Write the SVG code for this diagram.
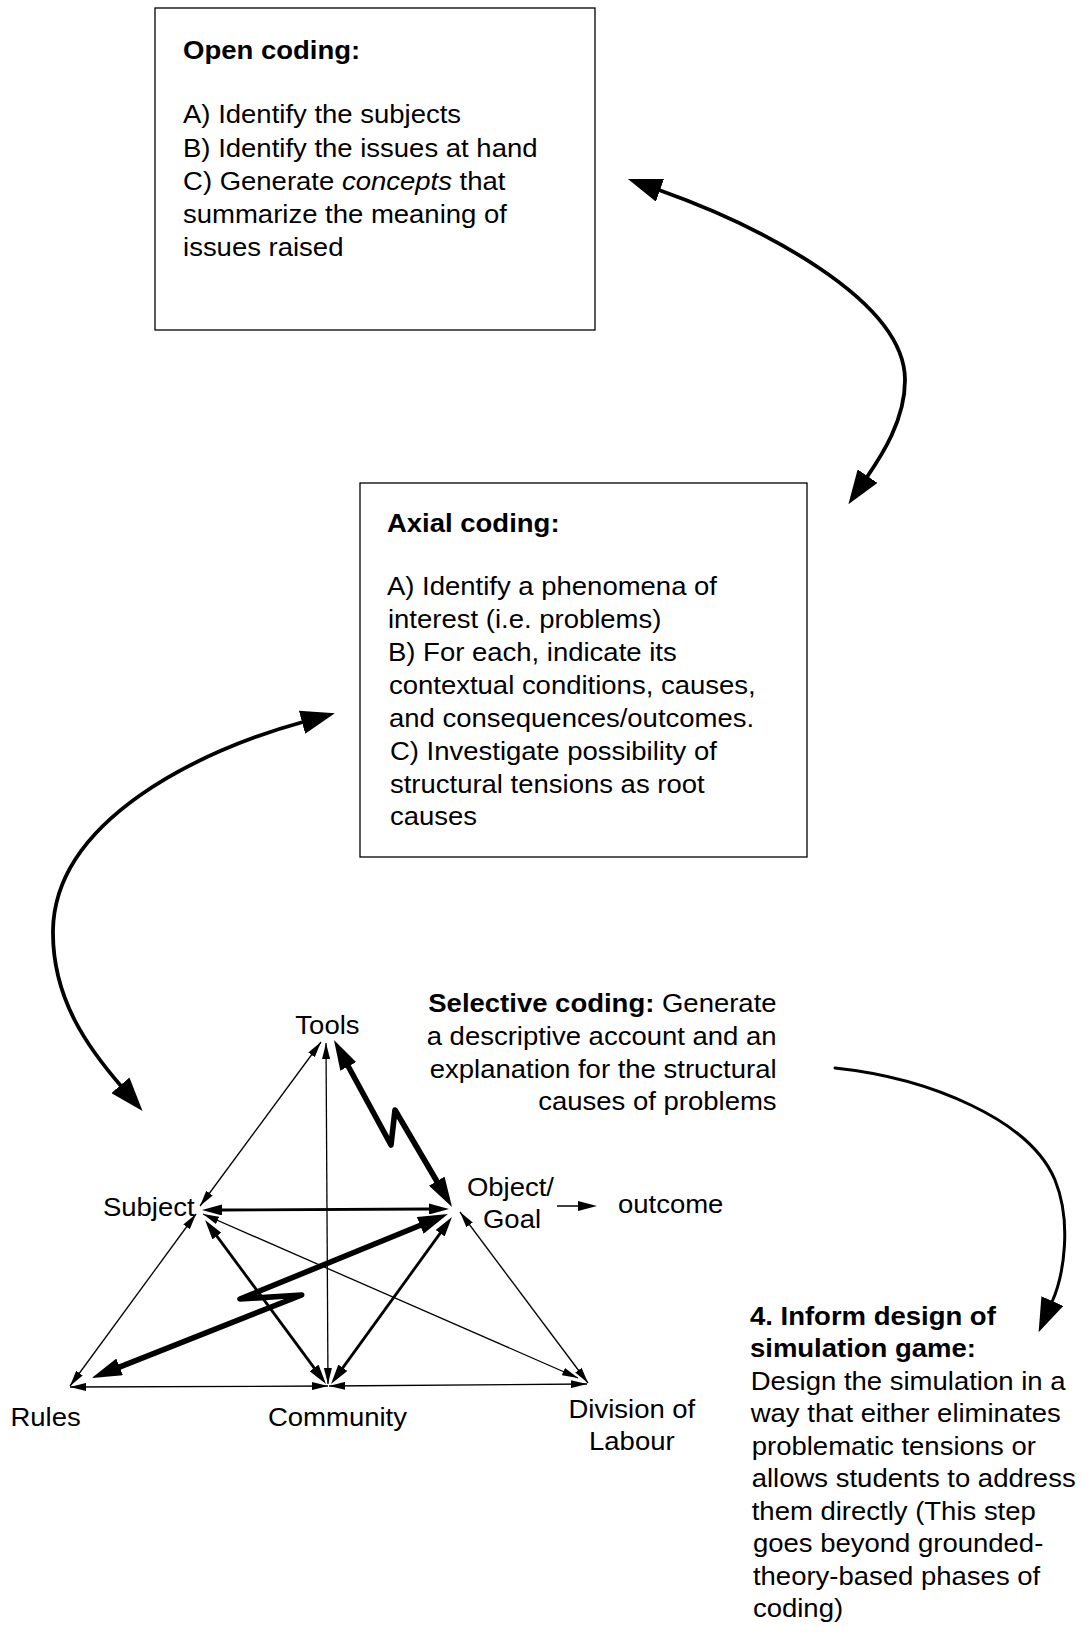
<svg xmlns="http://www.w3.org/2000/svg" width="1083" height="1633" viewBox="0 0 1083 1633">
  <style>
    text { font-family: "Liberation Sans", Arial, sans-serif; font-size: 25px; fill: #000; }
    .b { font-weight: bold; }
    .i { font-style: italic; }
    .box { fill: #fff; stroke: #000; stroke-width: 1.3; }
    .thin { fill: none; stroke: #000; stroke-width: 1.3; }
    .med { fill: none; stroke: #000; stroke-width: 2.8; }
    .bold { fill: none; stroke: #000; stroke-width: 5.6; stroke-linejoin: round; }
    .curve { fill: none; stroke: #000; stroke-width: 3.8; }
    .curve2 { fill: none; stroke: #000; stroke-width: 3; stroke-linecap: round; }
  </style>
  <defs>
    <!-- arrowheads in user units so line weight does not rescale them -->
    <marker id="ah-thin" markerUnits="userSpaceOnUse" markerWidth="16" markerHeight="8" viewBox="0 0 16 8" refX="16" refY="4" orient="auto-start-reverse">
      <path d="M0,0 L16,4 L0,8 z" fill="#000"/>
    </marker>
    <marker id="ah-med" markerUnits="userSpaceOnUse" markerWidth="20" markerHeight="11" viewBox="0 0 20 11" refX="1" refY="5.5" orient="auto-start-reverse">
      <path d="M0,0 L20,5.5 L0,11 z" fill="#000"/>
    </marker>
    <marker id="ah-bold" markerUnits="userSpaceOnUse" markerWidth="30" markerHeight="18" viewBox="0 0 30 18" refX="1" refY="9" orient="auto-start-reverse">
      <path d="M0,0 L30,9 L0,18 z" fill="#000"/>
    </marker>
    <marker id="ah-big" markerUnits="userSpaceOnUse" markerWidth="34" markerHeight="24" viewBox="0 0 34 24" refX="1" refY="12" orient="auto-start-reverse">
      <path d="M0,0 L34,12 L0,24 z" fill="#000"/>
    </marker>
  </defs>

  <rect x="0" y="0" width="1083" height="1633" fill="#fff"/>

  <!-- phase boxes -->
  <g id="open-coding">
    <rect class="box" x="155" y="8" width="440" height="322"/>
    <g transform="scale(1.1 1)">
      <text class="b" x="166.4" y="59">Open coding:</text>
      <text x="166.4" y="123">A) Identify the subjects</text>
      <text x="166.4" y="157">B) Identify the issues at hand</text>
      <text x="166.4" y="190">C) Generate <tspan class="i">concepts</tspan> that</text>
      <text x="166.4" y="223">summarize the meaning of</text>
      <text x="166.4" y="256">issues raised</text>
    </g>
  </g>

  <g id="axial-coding">
    <rect class="box" x="360" y="483" width="447" height="374"/>
    <g transform="scale(1.1 1)">
      <text class="b" x="351.8" y="532">Axial coding:</text>
      <text x="351.8" y="595">A) Identify a phenomena of</text>
      <text x="352.7" y="628">interest (i.e. problems)</text>
      <text x="352.7" y="661">B) For each, indicate its</text>
      <text x="353.6" y="694">contextual conditions, causes,</text>
      <text x="353.6" y="727">and consequences/outcomes.</text>
      <text x="354.5" y="760">C) Investigate possibility of</text>
      <text x="354.5" y="793">structural tensions as root</text>
      <text x="354.5" y="825">causes</text>
    </g>
  </g>

  <g id="selective-coding">
    <g transform="scale(1.1 1)" text-anchor="end">
      <text x="706" y="1012"><tspan class="b">Selective coding:</tspan> Generate</text>
      <text x="706" y="1045">a descriptive account and an</text>
      <text x="706" y="1078">explanation for the structural</text>
      <text x="706" y="1110">causes of problems</text>
    </g>
  </g>

  <g id="inform-design">
    <g transform="scale(1.1 1)">
      <text class="b" x="681.8" y="1325">4. Inform design of</text>
      <text class="b" x="681.8" y="1357">simulation game:</text>
      <text x="682.5" y="1390">Design the simulation in a</text>
      <text x="682.5" y="1422">way that either eliminates</text>
      <text x="683.4" y="1455">problematic tensions or</text>
      <text x="683.4" y="1487">allows students to address</text>
      <text x="683.4" y="1520">them directly (This step</text>
      <text x="684.5" y="1552">goes beyond grounded-</text>
      <text x="684.5" y="1585">theory-based phases of</text>
      <text x="684.5" y="1617">coding)</text>
    </g>
  </g>

  <!-- activity system labels -->
  <g transform="scale(1.1 1)">
    <g id="tools"><text x="297.7" y="1034" text-anchor="middle">Tools</text></g>
    <g id="subject"><text x="93.6" y="1216">Subject</text></g>
    <g id="object"><text x="424.5" y="1196">Object/</text><text x="439.1" y="1228">Goal</text></g>
    <g id="outcome"><text x="561.8" y="1213">outcome</text></g>
    <g id="rules"><text x="9.5" y="1426">Rules</text></g>
    <g id="community"><text x="243.6" y="1426">Community</text></g>
    <g id="division"><text x="516.8" y="1418">Division of</text><text x="535.5" y="1450">Labour</text></g>
  </g>

  <g id="connectors">
    <!-- phase-to-phase curves -->
    <path class="curve" d="M659,190 C760,226 905,300 905,380 C905,420 882,455 867,477" marker-start="url(#ah-big)" marker-end="url(#ah-big)"/>
    <path class="curve" d="M303,722 C200,750 55,820 53,930 C52,1000 90,1050 121,1086" marker-start="url(#ah-big)" marker-end="url(#ah-big)"/>
    <path class="curve2" d="M835,1068 C930,1078 1030,1120 1055,1180 C1072,1222 1064,1275 1052,1302" marker-end="url(#ah-big)"/>

    <!-- triangle: thin relations -->
    <line class="thin" x1="321" y1="1042" x2="200" y2="1206" marker-start="url(#ah-thin)" marker-end="url(#ah-thin)"/>
    <line class="thin" x1="326" y1="1043" x2="328" y2="1384" marker-start="url(#ah-thin)" marker-end="url(#ah-thin)"/>
    <line class="thin" x1="196" y1="1214" x2="70" y2="1386" marker-start="url(#ah-thin)" marker-end="url(#ah-thin)"/>
    <line class="thin" x1="70" y1="1387" x2="328" y2="1386" marker-start="url(#ah-thin)" marker-end="url(#ah-thin)"/>
    <line class="thin" x1="329" y1="1386" x2="587" y2="1384" marker-start="url(#ah-thin)" marker-end="url(#ah-thin)"/>
    <line class="thin" x1="460" y1="1212" x2="588" y2="1383" marker-start="url(#ah-thin)" marker-end="url(#ah-thin)"/>
    <line class="thin" x1="203" y1="1214" x2="578" y2="1378" marker-start="url(#ah-thin)" marker-end="url(#ah-thin)"/>

    <!-- triangle: medium relations -->
    <line class="med" x1="221" y1="1210" x2="430" y2="1209" marker-start="url(#ah-med)" marker-end="url(#ah-med)"/>
    <line class="med" x1="216.3" y1="1235.3" x2="314.7" y2="1368.7" marker-start="url(#ah-med)" marker-end="url(#ah-med)"/>
    <line class="med" x1="440.8" y1="1232.4" x2="342.2" y2="1368.6" marker-start="url(#ah-med)" marker-end="url(#ah-med)"/>

    <!-- triangle: tensions (zigzag) -->
    <path class="bold" d="M347.8,1065.5 L391,1145 L395,1110 L437.3,1182" marker-start="url(#ah-bold)" marker-end="url(#ah-bold)"/>
    <path class="bold" d="M421.1,1225 L240,1299 L301.7,1295 L118.7,1367.3" marker-start="url(#ah-bold)" marker-end="url(#ah-bold)"/>

    <!-- object to outcome -->
    <line x1="557" y1="1206" x2="580" y2="1206" stroke="#000" stroke-width="1.5"/>
    <path d="M578,1201 L597,1206 L578,1211 z" fill="#000"/>
  </g>
</svg>
